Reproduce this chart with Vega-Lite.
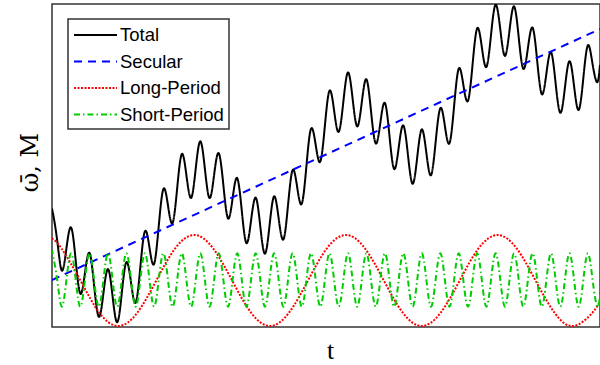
{
  "$schema": "https://vega.github.io/schema/vega-lite/v6.json",
  "autosize": {"type": "none"},
  "padding": {"left": 52, "top": 4, "right": 0, "bottom": 38},
  "width": 548,
  "height": 323,
  "background": "white",
  "config": {
    "view": {"stroke": "#333333", "strokeWidth": 1.5},
    "legend": {"strokeWidth": 1.5}
  },
  "data": {"values": [
    {"series":"Total","t":0,"v":115.1},{"series":"Total","t":0.6,"v":115.5},{"series":"Total","t":5.2,"v":86.6},{"series":"Total","t":9.8,"v":56.4},{"series":"Total","t":14.4,"v":78.4},{"series":"Total","t":19.1,"v":99.5},{"series":"Total","t":23.7,"v":66.6},{"series":"Total","t":28.3,"v":33.4},{"series":"Total","t":32.9,"v":53.6},{"series":"Total","t":37.5,"v":74.1},{"series":"Total","t":42.1,"v":41.7},{"series":"Total","t":46.8,"v":10.3},{"series":"Total","t":51.4,"v":33.5},{"series":"Total","t":56.0,"v":57.9},{"series":"Total","t":60.6,"v":30.5},{"series":"Total","t":65.2,"v":4.7},{"series":"Total","t":69.8,"v":34.0},{"series":"Total","t":74.4,"v":64.9},{"series":"Total","t":79.1,"v":43.9},{"series":"Total","t":83.7,"v":24.4},{"series":"Total","t":88.3,"v":59.5},{"series":"Total","t":92.9,"v":95.7},{"series":"Total","t":97.5,"v":79.2},{"series":"Total","t":102.1,"v":63.1},{"series":"Total","t":106.7,"v":100.6},{"series":"Total","t":111.4,"v":138.0},{"series":"Total","t":116.0,"v":121.4},{"series":"Total","t":120.6,"v":104.1},{"series":"Total","t":125.2,"v":139.1},{"series":"Total","t":129.8,"v":172.9},{"series":"Total","t":134.4,"v":151.8},{"series":"Total","t":139.1,"v":129.1},{"series":"Total","t":143.7,"v":158.2},{"series":"Total","t":148.3,"v":185.7},{"series":"Total","t":152.9,"v":158.1},{"series":"Total","t":157.5,"v":129.0},{"series":"Total","t":162.1,"v":152.0},{"series":"Total","t":166.7,"v":173.9},{"series":"Total","t":171.4,"v":141.6},{"series":"Total","t":176.0,"v":108.6},{"series":"Total","t":180.6,"v":128.7},{"series":"Total","t":185.2,"v":148.9},{"series":"Total","t":189.8,"v":116.1},{"series":"Total","t":194.4,"v":83.9},{"series":"Total","t":199.0,"v":106.0},{"series":"Total","t":203.7,"v":129.3},{"series":"Total","t":208.3,"v":100.5},{"series":"Total","t":212.9,"v":73.3},{"series":"Total","t":217.5,"v":101.1},{"series":"Total","t":222.1,"v":130.6},{"series":"Total","t":226.7,"v":108.3},{"series":"Total","t":231.4,"v":87.5},{"series":"Total","t":236.0,"v":121.6},{"series":"Total","t":240.6,"v":156.9},{"series":"Total","t":245.2,"v":139.7},{"series":"Total","t":249.8,"v":123.3},{"series":"Total","t":254.4,"v":160.7},{"series":"Total","t":259.0,"v":198.2},{"series":"Total","t":263.7,"v":182.1},{"series":"Total","t":268.3,"v":165.4},{"series":"Total","t":272.9,"v":201.4},{"series":"Total","t":277.5,"v":236.3},{"series":"Total","t":282.1,"v":216.5},{"series":"Total","t":286.7,"v":195.2},{"series":"Total","t":291.4,"v":225.7},{"series":"Total","t":296.0,"v":254.6},{"series":"Total","t":300.6,"v":228.4},{"series":"Total","t":305.2,"v":200.6},{"series":"Total","t":309.8,"v":224.8},{"series":"Total","t":314.4,"v":247.7},{"series":"Total","t":319.0,"v":216.0},{"series":"Total","t":323.7,"v":183.6},{"series":"Total","t":328.3,"v":203.9},{"series":"Total","t":332.9,"v":224.1},{"series":"Total","t":337.5,"v":190.9},{"series":"Total","t":342.1,"v":158.1},{"series":"Total","t":346.7,"v":179.4},{"series":"Total","t":351.3,"v":201.6},{"series":"Total","t":356.0,"v":171.7},{"series":"Total","t":360.6,"v":143.2},{"series":"Total","t":365.2,"v":169.5},{"series":"Total","t":369.8,"v":197.6},{"series":"Total","t":374.4,"v":173.8},{"series":"Total","t":379.0,"v":151.8},{"series":"Total","t":383.6,"v":184.6},{"series":"Total","t":388.3,"v":218.8},{"series":"Total","t":392.9,"v":200.9},{"series":"Total","t":397.5,"v":183.8},{"series":"Total","t":402.1,"v":220.9},{"series":"Total","t":406.7,"v":258.3},{"series":"Total","t":411.3,"v":242.4},{"series":"Total","t":416.0,"v":226.2},{"series":"Total","t":420.6,"v":262.9},{"series":"Total","t":425.2,"v":298.7},{"series":"Total","t":429.8,"v":280.0},{"series":"Total","t":434.4,"v":260.0},{"series":"Total","t":439.0,"v":291.9},{"series":"Total","t":443.6,"v":322.3},{"series":"Total","t":448.3,"v":297.5},{"series":"Total","t":452.9,"v":271.1},{"series":"Total","t":457.5,"v":296.6},{"series":"Total","t":462.1,"v":320.6},{"series":"Total","t":466.7,"v":289.8},{"series":"Total","t":471.3,"v":258.1},{"series":"Total","t":475.9,"v":278.9},{"series":"Total","t":480.6,"v":299.3},{"series":"Total","t":485.2,"v":266.0},{"series":"Total","t":489.8,"v":232.8},{"series":"Total","t":494.4,"v":253.5},{"series":"Total","t":499.0,"v":274.9},{"series":"Total","t":503.6,"v":243.9},{"series":"Total","t":508.3,"v":214.2},{"series":"Total","t":512.9,"v":239.2},{"series":"Total","t":517.5,"v":265.8},{"series":"Total","t":522.1,"v":240.6},{"series":"Total","t":526.7,"v":217.1},{"series":"Total","t":531.3,"v":248.6},{"series":"Total","t":535.9,"v":281.7},{"series":"Total","t":540.6,"v":262.7},{"series":"Total","t":545.2,"v":244.8},{"series":"Total","t":548,"v":262.1},
    {"series":"Secular","t":0,"v":47},{"series":"Secular","t":548,"v":298},
    {"series":"Long-Period","t":0,"v":88.5},{"series":"Long-Period","t":9.4,"v":78.7},{"series":"Long-Period","t":28.4,"v":46.5},{"series":"Long-Period","t":47.3,"v":14.3},{"series":"Long-Period","t":66.3,"v":1},{"series":"Long-Period","t":85.3,"v":14.3},{"series":"Long-Period","t":104.3,"v":46.5},{"series":"Long-Period","t":123.2,"v":78.7},{"series":"Long-Period","t":142.2,"v":92},{"series":"Long-Period","t":161.1,"v":78.7},{"series":"Long-Period","t":180.1,"v":46.5},{"series":"Long-Period","t":199.1,"v":14.3},{"series":"Long-Period","t":218.0,"v":1},{"series":"Long-Period","t":237.0,"v":14.3},{"series":"Long-Period","t":256.0,"v":46.5},{"series":"Long-Period","t":274.9,"v":78.7},{"series":"Long-Period","t":293.9,"v":92},{"series":"Long-Period","t":312.9,"v":78.7},{"series":"Long-Period","t":331.8,"v":46.5},{"series":"Long-Period","t":350.8,"v":14.3},{"series":"Long-Period","t":369.7,"v":1},{"series":"Long-Period","t":388.7,"v":14.3},{"series":"Long-Period","t":407.7,"v":46.5},{"series":"Long-Period","t":426.6,"v":78.7},{"series":"Long-Period","t":445.6,"v":92},{"series":"Long-Period","t":464.6,"v":78.7},{"series":"Long-Period","t":483.5,"v":46.5},{"series":"Long-Period","t":502.5,"v":14.3},{"series":"Long-Period","t":521.5,"v":1},{"series":"Long-Period","t":540.4,"v":14.3},{"series":"Long-Period","t":548,"v":25.9},
    {"series":"Short-Period","t":0,"v":73.6},{"series":"Short-Period","t":0.6,"v":73.7},{"series":"Short-Period","t":5.2,"v":47},{"series":"Short-Period","t":9.8,"v":20.3},{"series":"Short-Period","t":14.4,"v":47},{"series":"Short-Period","t":19.1,"v":73.7},{"series":"Short-Period","t":23.7,"v":47},{"series":"Short-Period","t":28.3,"v":20.3},{"series":"Short-Period","t":32.9,"v":47},{"series":"Short-Period","t":37.5,"v":73.7},{"series":"Short-Period","t":42.1,"v":47},{"series":"Short-Period","t":46.8,"v":20.3},{"series":"Short-Period","t":51.4,"v":47},{"series":"Short-Period","t":56.0,"v":73.7},{"series":"Short-Period","t":60.6,"v":47},{"series":"Short-Period","t":65.2,"v":20.3},{"series":"Short-Period","t":69.8,"v":47},{"series":"Short-Period","t":74.4,"v":73.7},{"series":"Short-Period","t":79.1,"v":47},{"series":"Short-Period","t":83.7,"v":20.3},{"series":"Short-Period","t":88.3,"v":47},{"series":"Short-Period","t":92.9,"v":73.7},{"series":"Short-Period","t":97.5,"v":47},{"series":"Short-Period","t":102.1,"v":20.3},{"series":"Short-Period","t":106.7,"v":47},{"series":"Short-Period","t":111.4,"v":73.7},{"series":"Short-Period","t":116.0,"v":47},{"series":"Short-Period","t":120.6,"v":20.3},{"series":"Short-Period","t":125.2,"v":47},{"series":"Short-Period","t":129.8,"v":73.7},{"series":"Short-Period","t":134.4,"v":47},{"series":"Short-Period","t":139.1,"v":20.3},{"series":"Short-Period","t":143.7,"v":47},{"series":"Short-Period","t":148.3,"v":73.7},{"series":"Short-Period","t":152.9,"v":47},{"series":"Short-Period","t":157.5,"v":20.3},{"series":"Short-Period","t":162.1,"v":47},{"series":"Short-Period","t":166.7,"v":73.7},{"series":"Short-Period","t":171.4,"v":47},{"series":"Short-Period","t":176.0,"v":20.3},{"series":"Short-Period","t":180.6,"v":47},{"series":"Short-Period","t":185.2,"v":73.7},{"series":"Short-Period","t":189.8,"v":47},{"series":"Short-Period","t":194.4,"v":20.3},{"series":"Short-Period","t":199.0,"v":47},{"series":"Short-Period","t":203.7,"v":73.7},{"series":"Short-Period","t":208.3,"v":47},{"series":"Short-Period","t":212.9,"v":20.3},{"series":"Short-Period","t":217.5,"v":47},{"series":"Short-Period","t":222.1,"v":73.7},{"series":"Short-Period","t":226.7,"v":47},{"series":"Short-Period","t":231.4,"v":20.3},{"series":"Short-Period","t":236.0,"v":47},{"series":"Short-Period","t":240.6,"v":73.7},{"series":"Short-Period","t":245.2,"v":47},{"series":"Short-Period","t":249.8,"v":20.3},{"series":"Short-Period","t":254.4,"v":47},{"series":"Short-Period","t":259.0,"v":73.7},{"series":"Short-Period","t":263.7,"v":47},{"series":"Short-Period","t":268.3,"v":20.3},{"series":"Short-Period","t":272.9,"v":47},{"series":"Short-Period","t":277.5,"v":73.7},{"series":"Short-Period","t":282.1,"v":47},{"series":"Short-Period","t":286.7,"v":20.3},{"series":"Short-Period","t":291.4,"v":47},{"series":"Short-Period","t":296.0,"v":73.7},{"series":"Short-Period","t":300.6,"v":47},{"series":"Short-Period","t":305.2,"v":20.3},{"series":"Short-Period","t":309.8,"v":47},{"series":"Short-Period","t":314.4,"v":73.7},{"series":"Short-Period","t":319.0,"v":47},{"series":"Short-Period","t":323.7,"v":20.3},{"series":"Short-Period","t":328.3,"v":47},{"series":"Short-Period","t":332.9,"v":73.7},{"series":"Short-Period","t":337.5,"v":47},{"series":"Short-Period","t":342.1,"v":20.3},{"series":"Short-Period","t":346.7,"v":47},{"series":"Short-Period","t":351.3,"v":73.7},{"series":"Short-Period","t":356.0,"v":47},{"series":"Short-Period","t":360.6,"v":20.3},{"series":"Short-Period","t":365.2,"v":47},{"series":"Short-Period","t":369.8,"v":73.7},{"series":"Short-Period","t":374.4,"v":47},{"series":"Short-Period","t":379.0,"v":20.3},{"series":"Short-Period","t":383.6,"v":47},{"series":"Short-Period","t":388.3,"v":73.7},{"series":"Short-Period","t":392.9,"v":47},{"series":"Short-Period","t":397.5,"v":20.3},{"series":"Short-Period","t":402.1,"v":47},{"series":"Short-Period","t":406.7,"v":73.7},{"series":"Short-Period","t":411.3,"v":47},{"series":"Short-Period","t":416.0,"v":20.3},{"series":"Short-Period","t":420.6,"v":47},{"series":"Short-Period","t":425.2,"v":73.7},{"series":"Short-Period","t":429.8,"v":47},{"series":"Short-Period","t":434.4,"v":20.3},{"series":"Short-Period","t":439.0,"v":47},{"series":"Short-Period","t":443.6,"v":73.7},{"series":"Short-Period","t":448.3,"v":47},{"series":"Short-Period","t":452.9,"v":20.3},{"series":"Short-Period","t":457.5,"v":47},{"series":"Short-Period","t":462.1,"v":73.7},{"series":"Short-Period","t":466.7,"v":47},{"series":"Short-Period","t":471.3,"v":20.3},{"series":"Short-Period","t":475.9,"v":47},{"series":"Short-Period","t":480.6,"v":73.7},{"series":"Short-Period","t":485.2,"v":47},{"series":"Short-Period","t":489.8,"v":20.3},{"series":"Short-Period","t":494.4,"v":47},{"series":"Short-Period","t":499.0,"v":73.7},{"series":"Short-Period","t":503.6,"v":47},{"series":"Short-Period","t":508.3,"v":20.3},{"series":"Short-Period","t":512.9,"v":47},{"series":"Short-Period","t":517.5,"v":73.7},{"series":"Short-Period","t":522.1,"v":47},{"series":"Short-Period","t":526.7,"v":20.3},{"series":"Short-Period","t":531.3,"v":47},{"series":"Short-Period","t":535.9,"v":73.7},{"series":"Short-Period","t":540.6,"v":47},{"series":"Short-Period","t":545.2,"v":20.3},{"series":"Short-Period","t":548,"v":31.7}
  ]},
  "mark": {"type": "line", "interpolate": "natural", "strokeWidth": 2, "clip": true},
  "encoding": {
    "x": {"field": "t", "type": "quantitative", "scale": {"domain": [0, 548], "nice": false, "zero": false},
      "axis": {"ticks": false, "labels": false, "grid": false, "domain": false, "title": "t",
        "titleFont": "Liberation Serif", "titleFontSize": 26, "titleFontWeight": "normal", "titleColor": "#000000",
        "titleX": 278, "titleY": 31, "titleBaseline": "alphabetic"}},
    "y": {"field": "v", "type": "quantitative", "scale": {"domain": [0, 323], "nice": false, "zero": false},
      "axis": {"ticks": false, "labels": false, "grid": false, "domain": false, "title": "ω̄, M",
        "titleFont": "DejaVu Serif", "titleFontSize": 24, "titleFontWeight": "normal", "titleColor": "#000000",
        "titleX": -15, "titleY": 158, "titleAngle": -90, "titleAlign": "center", "titleBaseline": "alphabetic"}},
    "color": {"field": "series", "type": "nominal",
      "scale": {"domain": ["Total", "Secular", "Long-Period", "Short-Period"], "range": ["#000000", "#0000ff", "#ff0000", "#00cc00"]},
      "legend": {"orient": "none", "legendX": 16, "legendY": 15, "title": null, "symbolType": "M-1,0H3.3", "symbolSize": 400,
        "symbolStrokeWidth": 2, "labelFont": "Liberation Sans", "labelFontSize": 18.5, "labelColor": "#000000",
        "strokeColor": "#333333", "fillColor": "#ffffff", "padding": 5, "rowPadding": 5.5, "labelOffset": 25}},
    "strokeDash": {"field": "series", "type": "nominal",
      "scale": {"domain": ["Total", "Secular", "Long-Period", "Short-Period"], "range": [[1, 0], [8, 6], [2, 1.5], [6, 3, 1.5, 3]]},
      "legend": {"orient": "none", "legendX": 16, "legendY": 15, "title": null, "symbolType": "M-1,0H3.3", "symbolSize": 400,
        "symbolStrokeWidth": 2, "labelFont": "Liberation Sans", "labelFontSize": 18.5, "labelColor": "#000000",
        "strokeColor": "#333333", "fillColor": "#ffffff", "padding": 5, "rowPadding": 5.5, "labelOffset": 25}}
  }
}
